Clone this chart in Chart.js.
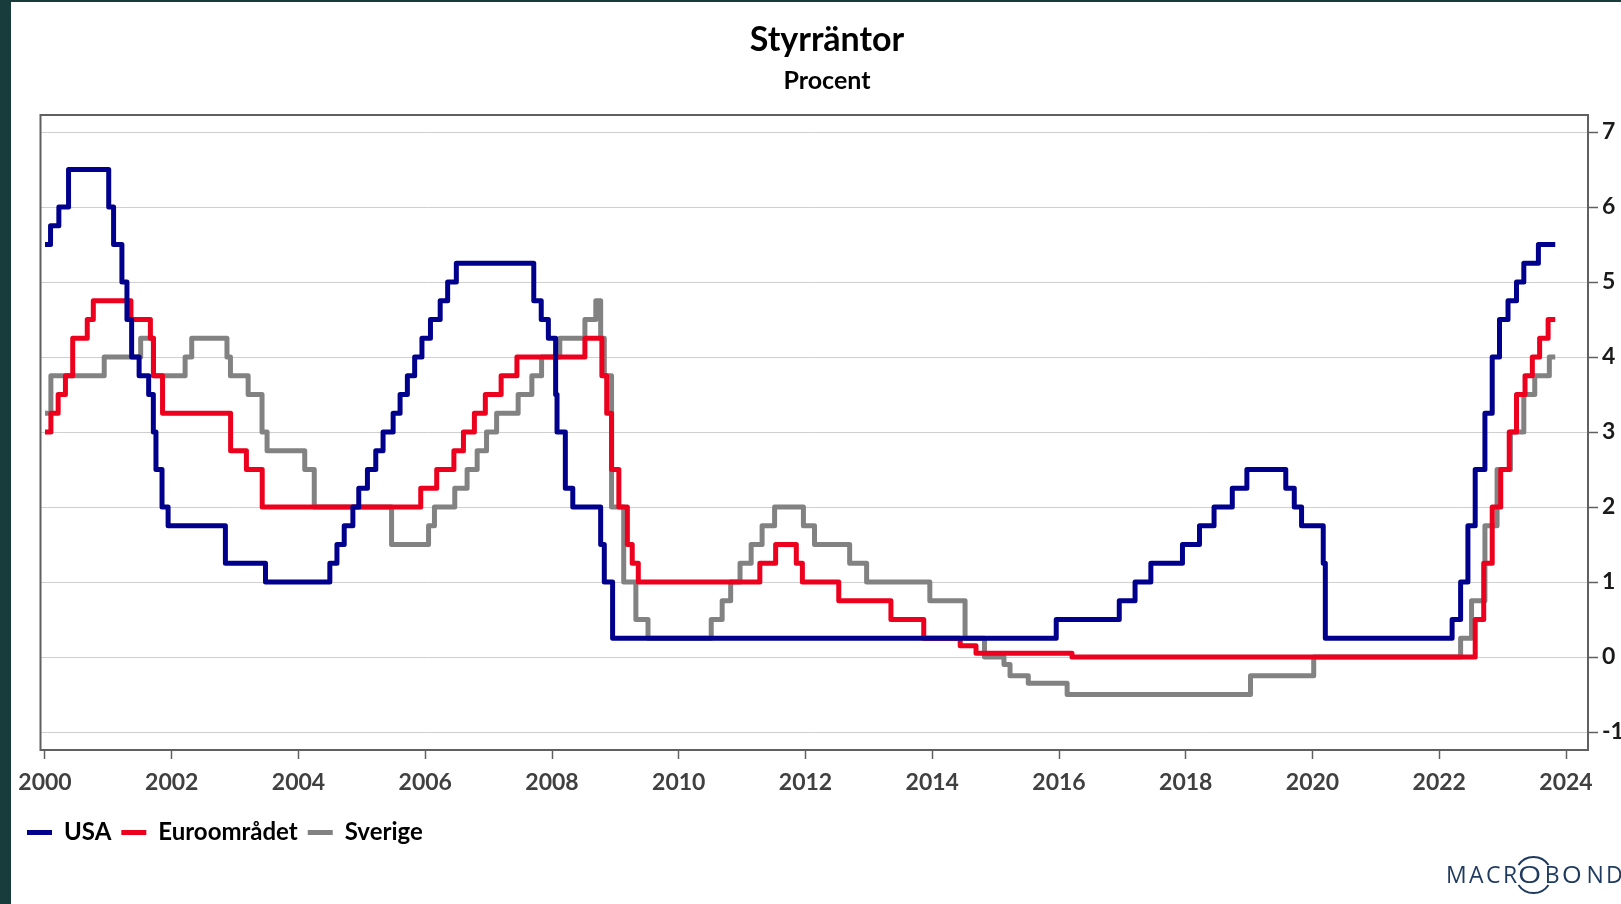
<!DOCTYPE html>
<html>
<head>
<meta charset="utf-8">
<script src="https://cdn.jsdelivr.net/npm/chart.js@4.4.0/dist/chart.umd.min.js"></script>
<style>
html,body{margin:0;padding:0;width:1621px;height:904px;overflow:hidden;background:#fff;}
#wrap{position:absolute;left:11px;top:0;width:1640px;height:904px;}
#strip{position:absolute;left:0;top:0;width:11px;height:904px;background:#183c3c;}
#topstrip{position:absolute;left:0;top:0;width:1621px;height:2px;background:#183c3c;}
#logo{position:absolute;left:1446px;top:863px;font-family:'Open Sans',sans-serif;font-weight:400;font-size:23px;letter-spacing:2.4px;color:#1f3a5f;white-space:nowrap;line-height:22px;}
#logo .o1{display:inline-block;transform:scaleX(1.3);margin:0 4px 0 1px;}
#logo .o2{display:inline-block;transform:scaleX(1.1);margin:0 3px 0 1px;}
#arcs{position:absolute;left:0;top:0;width:1621px;height:904px;pointer-events:none;}
</style>
</head>
<body>
<div id="wrap"><canvas id="c" width="1640" height="904"></canvas></div>
<div id="strip"></div>
<div id="topstrip"></div>
<div id="logo">MACR<span class="o1">O</span>B<span class="o2">O</span>ND</div>
<svg id="arcs" width="1621" height="904">
  <path d="M1518.5 865 A18 18 0 0 1 1548.5 865" fill="none" stroke="#1f3a5f" stroke-width="2"/>
  <path d="M1518.5 885 A18 18 0 0 0 1548.5 885" fill="none" stroke="#1f3a5f" stroke-width="2"/>
</svg>
<script>
const chartTitle = 'Styrräntor';
const chartSubtitle = 'Procent';
const seriesNames = ['USA', 'Euroområdet', 'Sverige'];
const seriesColors = ['#00008c', '#ec001d', '#828282'];
const xTickLabels = ['2000','2002','2004','2006','2008','2010','2012','2014','2016','2018','2020','2022','2024'];
const yTickLabels = ['-1','0','1','2','3','4','5','6','7'];
const endDate = '2023-10-31';

const usaDates = ['2000-01-01','2000-02-02','2000-03-21','2000-05-16','2001-01-03','2001-01-31','2001-03-20','2001-04-18','2001-05-15','2001-06-27','2001-08-21','2001-09-17','2001-10-02','2001-11-06','2001-12-11','2002-11-06','2003-06-25','2004-06-30','2004-08-10','2004-09-21','2004-11-10','2004-12-14','2005-02-02','2005-03-22','2005-05-03','2005-06-30','2005-08-09','2005-09-20','2005-11-01','2005-12-13','2006-01-31','2006-03-28','2006-05-10','2006-06-29','2007-09-18','2007-10-31','2007-12-11','2008-01-22','2008-01-30','2008-03-18','2008-04-30','2008-10-08','2008-10-29','2008-12-16','2015-12-16','2016-12-14','2017-03-15','2017-06-14','2017-12-13','2018-03-21','2018-06-13','2018-09-26','2018-12-19','2019-07-31','2019-09-18','2019-10-30','2020-03-03','2020-03-15','2022-03-16','2022-05-04','2022-06-15','2022-07-27','2022-09-21','2022-11-02','2022-12-14','2023-02-01','2023-03-22','2023-05-03','2023-07-26'];
const usaRates = [5.5,5.75,6.0,6.5,6.0,5.5,5.0,4.5,4.0,3.75,3.5,3.0,2.5,2.0,1.75,1.25,1.0,1.25,1.5,1.75,2.0,2.25,2.5,2.75,3.0,3.25,3.5,3.75,4.0,4.25,4.5,4.75,5.0,5.25,4.75,4.5,4.25,3.5,3.0,2.25,2.0,1.5,1.0,0.25,0.5,0.75,1.0,1.25,1.5,1.75,2.0,2.25,2.5,2.25,2.0,1.75,1.25,0.25,0.5,1.0,1.75,2.5,3.25,4.0,4.5,4.75,5.0,5.25,5.5];

const euroDates = ['2000-01-01','2000-02-04','2000-03-17','2000-04-28','2000-06-09','2000-09-01','2000-10-06','2001-05-11','2001-08-31','2001-09-18','2001-11-09','2002-12-06','2003-03-07','2003-06-06','2005-12-06','2006-03-08','2006-06-15','2006-08-09','2006-10-11','2006-12-13','2007-03-14','2007-06-13','2008-07-09','2008-10-15','2008-11-12','2008-12-10','2009-01-21','2009-03-11','2009-04-08','2009-05-13','2011-04-13','2011-07-13','2011-11-09','2011-12-14','2012-07-11','2013-05-08','2013-11-13','2014-06-11','2014-09-10','2016-03-16','2022-07-27','2022-09-14','2022-11-02','2022-12-21','2023-02-08','2023-03-22','2023-05-10','2023-06-21','2023-08-02','2023-09-20'];
const euroRates = [3.0,3.25,3.5,3.75,4.25,4.5,4.75,4.5,4.25,3.75,3.25,2.75,2.5,2.0,2.25,2.5,2.75,3.0,3.25,3.5,3.75,4.0,4.25,3.75,3.25,2.5,2.0,1.5,1.25,1.0,1.25,1.5,1.25,1.0,0.75,0.5,0.25,0.15,0.05,0.0,0.5,1.25,2.0,2.5,3.0,3.5,3.75,4.0,4.25,4.5];

const sverigeDates = ['2000-01-01','2000-02-04','2000-12-08','2001-07-06','2001-09-17','2002-03-19','2002-04-26','2002-11-15','2002-12-05','2003-03-17','2003-06-05','2003-07-04','2004-02-06','2004-04-01','2005-06-21','2006-01-20','2006-02-23','2006-06-20','2006-08-30','2006-10-27','2006-12-20','2007-02-16','2007-06-20','2007-09-07','2007-11-02','2008-02-15','2008-07-09','2008-09-10','2008-10-08','2008-10-29','2008-12-10','2009-02-18','2009-04-29','2009-07-08','2010-07-07','2010-09-08','2010-10-27','2010-12-20','2011-02-22','2011-04-26','2011-07-07','2011-12-20','2012-02-22','2012-09-12','2012-12-19','2013-12-18','2014-07-09','2014-10-29','2015-02-18','2015-03-25','2015-07-08','2016-02-17','2019-01-09','2020-01-08','2022-05-04','2022-07-06','2022-09-21','2022-11-30','2023-02-15','2023-05-03','2023-07-05','2023-09-27'];
const sverigeRates = [3.25,3.75,4.0,4.25,3.75,4.0,4.25,4.0,3.75,3.5,3.0,2.75,2.5,2.0,1.5,1.75,2.0,2.25,2.5,2.75,3.0,3.25,3.5,3.75,4.0,4.25,4.5,4.75,4.25,3.75,2.0,1.0,0.5,0.25,0.5,0.75,1.0,1.25,1.5,1.75,2.0,1.75,1.5,1.25,1.0,0.75,0.25,0.0,-0.1,-0.25,-0.35,-0.5,-0.25,0.0,0.25,0.75,1.75,2.5,3.0,3.5,3.75,4.0];

function decYear(s) {
  const [y, m, d] = s.split('-').map(Number);
  const start = Date.UTC(y, 0, 1), end = Date.UTC(y + 1, 0, 1);
  return y + (Date.UTC(y, m - 1, d) - start) / (end - start);
}
function toPoints(dates, rates) {
  const pts = dates.map((d, i) => ({ x: decYear(d), y: rates[i] }));
  pts.push({ x: decYear(endDate), y: rates[rates.length - 1] });
  return pts;
}
const allDates = [usaDates, euroDates, sverigeDates];
const allRates = [usaRates, euroRates, sverigeRates];

const datasets = seriesNames.map((name, i) => ({
  label: name,
  data: toPoints(allDates[i], allRates[i]),
  borderColor: seriesColors[i],
  backgroundColor: seriesColors[i],
  borderWidth: 5,
  stepped: 'before',
  pointRadius: 0,
  borderJoinStyle: 'round',
  borderCapStyle: 'butt',
  xAxisID: 'x',
  yAxisID: 'y'
}));

const frame = {
  id: 'frame',
  afterDatasetsDraw(chart) {
    const { ctx, chartArea: a } = chart;
    ctx.save();
    ctx.strokeStyle = '#606060';
    ctx.lineWidth = 2;
    ctx.strokeRect(a.left, a.top, a.right - a.left, a.bottom - a.top);
    ctx.restore();
  }
};

new Chart(document.getElementById('c'), {
  type: 'line',
  data: { datasets },
  plugins: [frame],
  options: {
    responsive: false,
    animation: false,
    layout: { padding: { left: 6, right: 14, top: 0, bottom: 49.5 } },
    scales: {
      x: {
        type: 'linear', position: 'bottom',
        min: 1999.929, max: 2024.347,
        afterBuildTicks: s => { s.ticks = xTickLabels.map(v => ({ value: Number(v) })); },
        afterFit: s => { s.height = 60.5; },
        ticks: { callback: v => String(v), font: { family: 'Lato', size: 23, weight: 'bold', lineHeight: 2.07 }, color: '#404040', padding: 0, maxRotation: 0, autoSkip: false },
        grid: { drawOnChartArea: false, color: '#606060', tickColor: '#606060', tickLength: 9, tickWidth: 1.5 },
        border: { display: false }
      },
      y: {
        type: 'linear', position: 'right',
        min: -1.24, max: 7.227,
        afterBuildTicks: s => { s.ticks = yTickLabels.map(v => ({ value: Number(v) })); },
        afterFit: s => { s.width = 49; },
        ticks: { callback: v => String(v), font: { family: 'Lato', size: 23, weight: 'bold' }, color: '#1a1a1a', padding: 4, autoSkip: false },
        grid: { color: '#cfcfcf', lineWidth: 1, tickColor: '#606060', tickLength: 10, tickWidth: 1.5 },
        border: { display: false }
      },
      yL: {
        type: 'linear', position: 'left',
        ticks: { display: false }, grid: { display: false }, border: { display: false },
        afterFit: s => { s.width = 23.5; }
      }
    },
    plugins: {
      title: { display: true, text: chartTitle, color: '#000', font: { family: 'Lato', size: 34, weight: 'bold' }, padding: { top: 20, bottom: 5.2 } },
      subtitle: { display: true, text: chartSubtitle, color: '#000', font: { family: 'Lato', size: 25, weight: 'bold' }, padding: { top: 0, bottom: 19 } },
      legend: {
        display: true, position: 'bottom', align: 'start',
        labels: {
          boxWidth: 25, boxHeight: 5, padding: 10, color: '#000',
          font: { family: 'Lato', size: 24, weight: 'bold' },
          generateLabels: chart => Chart.defaults.plugins.legend.labels.generateLabels(chart).map(l => Object.assign(l, { lineWidth: 0 }))
        }
      },
      tooltip: { enabled: false }
    }
  }
});
</script>
</body>
</html>
